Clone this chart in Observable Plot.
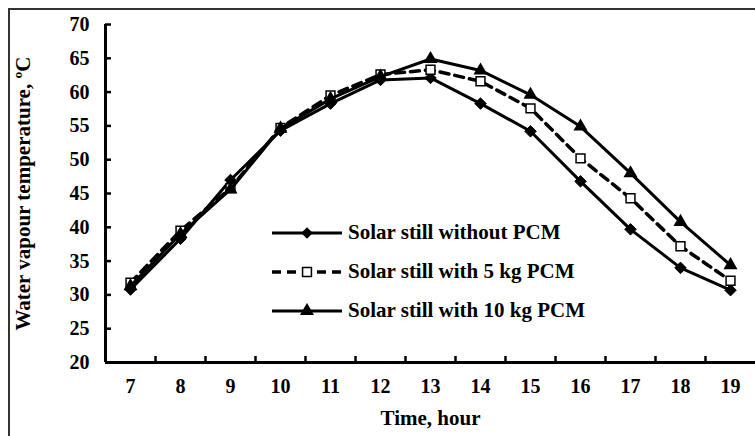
<!DOCTYPE html>
<html><head><meta charset="utf-8">
<script src="https://cdn.jsdelivr.net/npm/d3@7"></script>
<script src="https://cdn.jsdelivr.net/npm/@observablehq/plot@0.6"></script>
<style>
html,body{margin:0;padding:0;background:#fff;overflow:hidden;}
#wrap{position:relative;width:755px;height:436px;overflow:hidden;background:#fff;}
#frame{position:absolute;left:8px;top:8px;width:800px;height:500px;border-left:2px solid #333;border-top:2px solid #333;pointer-events:none;z-index:5;}
#legend{position:absolute;left:272px;top:213px;font:bold 21px "Liberation Serif","Times New Roman",serif;color:#000;}
.row{display:flex;align-items:center;height:39px;white-space:nowrap;}
.row svg{margin-right:6px;}
#chart{position:absolute;left:0;top:0;}
</style></head><body>
<div id="wrap"><div id="chart"></div><div id="legend"></div><div id="frame"></div></div>
<script>
const hours = [7, 8, 9, 10, 11, 12, 13, 14, 15, 16, 17, 18, 19];
const withoutPCM = [30.8, 38.3, 47.0, 54.3, 58.3, 61.8, 62.1, 58.3, 54.2, 46.8, 39.7, 34.0, 30.7];
const with5kgPCM = [31.8, 39.5, 45.8, 54.7, 59.5, 62.6, 63.3, 61.6, 57.6, 50.2, 44.3, 37.2, 32.1];
const with10kgPCM = [31.3, 39.0, 45.6, 54.6, 59.0, 62.3, 64.9, 63.2, 59.6, 54.9, 48.0, 40.8, 34.4];
const seriesNames = ["Solar still without PCM", "Solar still with 5 kg PCM", "Solar still with 10 kg PCM"];
const yTicks = [20, 25, 30, 35, 40, 45, 50, 55, 60, 65, 70];
const xBoundaries = [7.5, 8.5, 9.5, 10.5, 11.5, 12.5, 13.5, 14.5, 15.5, 16.5, 17.5, 18.5];
const xTitle = "Time, hour";
const yTitle = "Water vapour temperature, ºC";

const rows = (vals) => hours.map((h, i) => ({hour: h, value: vals[i]}));
const d0 = rows(withoutPCM), d1 = rows(with5kgPCM), d2 = rows(with10kgPCM);
const font = '"Liberation Serif","Times New Roman",serif';

const chart = Plot.plot({
  width: 755, height: 436,
  marginLeft: 105, marginRight: 0, marginTop: 24, marginBottom: 74,
  style: {fontFamily: font, fontWeight: "bold", fontSize: "20px", color: "#000", background: "transparent", overflow: "visible"},
  x: {type: "linear", domain: [6.5, 19.5]},
  y: {domain: [20, 70]},
  marks: [
    Plot.axisY({ticks: yTicks, tickSize: 0, tickPadding: 16, fontSize: 20, label: null}),
    Plot.axisY({ticks: yTicks, tickSize: -6, strokeWidth: 2.5, tickFormat: () => "", label: null}),
    Plot.axisX({ticks: hours, tickSize: 0, tickPadding: 16, fontSize: 20, label: null}),
    Plot.axisX({ticks: xBoundaries, tickSize: -6, strokeWidth: 2.5, tickFormat: () => "", label: null}),
    Plot.ruleX([6.5], {stroke: "black", strokeWidth: 3}),
    Plot.ruleY([20], {stroke: "black", strokeWidth: 3}),
    Plot.line(d0, {x: "hour", y: "value", stroke: "black", strokeWidth: 3}),
    Plot.dot(d0, {x: "hour", y: "value", symbol: "diamond2", r: 5.2, fill: "black", stroke: "black", strokeWidth: 1}),
    Plot.line(d1, {x: "hour", y: "value", stroke: "black", strokeWidth: 3.5, strokeDasharray: "9,6"}),
    Plot.dot(d1, {x: "hour", y: "value", symbol: "square", r: 5, fill: "white", stroke: "black", strokeWidth: 1.5}),
    Plot.line(d2, {x: "hour", y: "value", stroke: "black", strokeWidth: 3}),
    Plot.dot(d2, {x: "hour", y: "value", symbol: "triangle", r: 5.2, fill: "black"}),
    Plot.text([xTitle], {frameAnchor: "bottom", dy: 62, fontSize: 21, fontWeight: "bold"}),
    Plot.text([yTitle], {frameAnchor: "left", dx: -82, rotate: -90, textAnchor: "middle", fontSize: 21, fontWeight: "bold"})
  ]
});
document.getElementById("chart").appendChild(chart);

// Legend
const legendStyles = [
  {dash: null, w: 3, sym: d3.symbolDiamond2, size: Math.PI * 5.2 * 5.2, fill: "black"},
  {dash: "9,6", w: 3.5, sym: d3.symbolSquare, size: Math.PI * 25, fill: "white"},
  {dash: null, w: 3, sym: d3.symbolTriangle, size: Math.PI * 5.2 * 5.2, fill: "black"}
];
const legend = d3.select("#legend");
seriesNames.forEach((name, i) => {
  const s = legendStyles[i];
  const row = legend.append("div").attr("class", "row");
  const svg = row.append("svg").attr("width", 70).attr("height", 16);
  svg.append("line").attr("x1", 0).attr("x2", 70).attr("y1", 8).attr("y2", 8)
    .attr("stroke", "black").attr("stroke-width", s.w).attr("stroke-dasharray", s.dash);
  svg.append("path").attr("transform", "translate(35,8)").attr("d", d3.symbol(s.sym, s.size)())
    .attr("fill", s.fill).attr("stroke", "black").attr("stroke-width", i === 1 ? 1.5 : 0);
  row.append("span").text(name);
});
</script>
</body></html>
